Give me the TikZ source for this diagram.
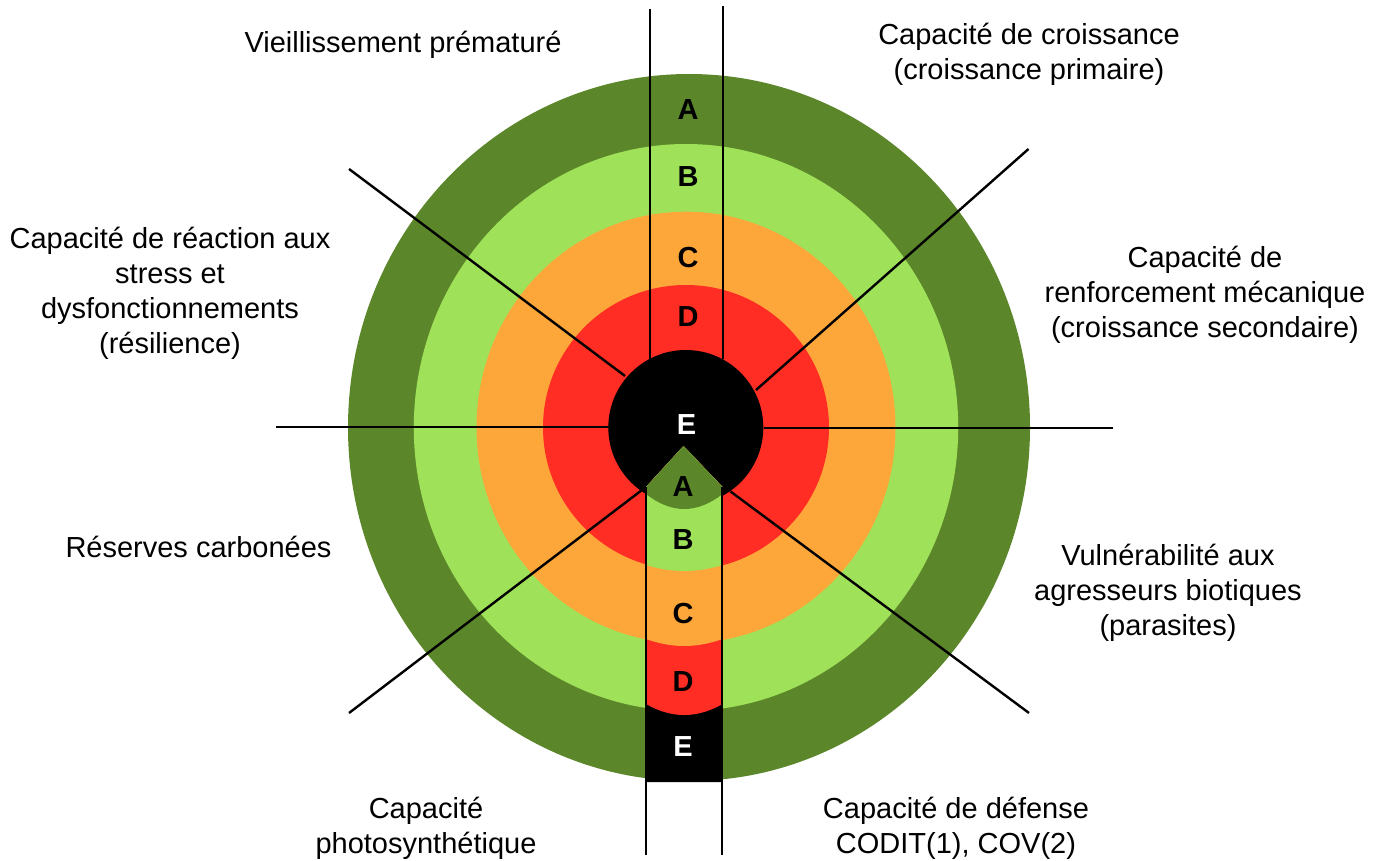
\documentclass[tikz,border=0pt]{standalone}
\usepackage{fontspec}
\setmainfont{Liberation Sans}
\definecolor{dkgreen}{RGB}{91,135,42}
\definecolor{ltgreen}{RGB}{160,225,90}
\definecolor{orng}{RGB}{253,167,58}
\definecolor{rd}{RGB}{255,45,35}
\tikzset{
  lbl/.style={font=\fontsize{29}{35}\selectfont, align=center, inner sep=0pt, anchor=base},
  letter/.style={font=\fontsize{29}{29}\selectfont\bfseries, inner sep=0pt},
  rule/.style={line width=2.4pt, black},
}
\begin{document}
\begin{tikzpicture}[x=1pt,y=-1pt]
\useasboundingbox (0,0) rectangle (1386,861);
\fill[white] (0,0) rectangle (1386,861);
% rings
\coordinate (c) at (686,427.5);
\fill[dkgreen] (689,427.5) ellipse [x radius=341, y radius=353.5];
\fill[ltgreen] (c) ellipse [x radius=272.2, y radius=283.5];
\fill[orng] (c) ellipse [x radius=209.5, y radius=215.8];
\fill[rd] (c) ellipse [x radius=143, y radius=142.5];
\fill[black] (685.8,427.5) circle [radius=77.5];
% lower strip
\fill[black] (646,487) -- (683.5,446) -- (722.5,487) -- (722.5,782) -- (646,782) -- cycle;
\fill[rd] (646,487) -- (683.5,446) -- (722.5,487) -- (722.5,704) .. controls (697,718.7) and (671.5,718.7) .. (646,704) -- cycle;
\fill[orng] (646,487) -- (683.5,446) -- (722.5,487) -- (722.5,639) .. controls (697,648.3) and (671.5,648.3) .. (646,639) -- cycle;
\fill[ltgreen] (646,487) -- (683.5,446) -- (722.5,487) -- (722.5,565) .. controls (697,573) and (671.5,573) .. (646,565) -- cycle;
\fill[dkgreen] (646,487) -- (683.5,446) -- (722.5,487) -- (722.5,494) .. controls (697,514) and (671.5,514) .. (646,494) -- cycle;
% line end points
\coordinate (tl1) at (650,9);     \coordinate (tl2) at (650,358.8);
\coordinate (tr1) at (722.7,6);   \coordinate (tr2) at (722.7,359.3);
\coordinate (bl1) at (646,487);   \coordinate (bl2) at (646,855);
\coordinate (br1) at (722,487);   \coordinate (br2) at (722,855);
\coordinate (w1) at (276,427);    \coordinate (w2) at (608.5,427);
\coordinate (e1) at (763.5,428);  \coordinate (e2) at (1113,428);
\coordinate (nw1) at (349,169);   \coordinate (nw2) at (625,376);
\coordinate (ne1) at (1028.5,149);\coordinate (ne2) at (756,390);
\coordinate (sw1) at (349,713);   \coordinate (sw2) at (642,490);
\coordinate (se1) at (1029,713);  \coordinate (se2) at (730.5,491.5);
\draw[rule] (tl1) -- (tl2);
\draw[rule] (tr1) -- (tr2);
\draw[rule] (bl1) -- (bl2);
\draw[rule] (br1) -- (br2);
\draw[rule] (w1) -- (w2);
\draw[rule] (e1) -- (e2);
\draw[rule] (nw1) -- (nw2);
\draw[rule] (ne1) -- (ne2);
\draw[rule] (sw1) -- (sw2);
\draw[rule] (se1) -- (se2);
% letters
\node[letter] (ua) at (688,110) {A};
\node[letter] (ub) at (688,177) {B};
\node[letter] (uc) at (688,258) {C};
\node[letter] (ud) at (688,317) {D};
\node[letter, white] (ce) at (686.5,425) {E};
\node[letter] (la) at (683,487) {A};
\node[letter] (lb) at (683,540) {B};
\node[letter] (lc) at (683,614) {C};
\node[letter] (ld) at (683,682) {D};
\node[letter, white] (le) at (683,747) {E};
% labels (anchored at the baseline of the last line)
\node[lbl] (t1) at (403,53) {Vieillissement prématuré};
\node[lbl] (t2) at (1029,80) {Capacité de croissance\\(croissance primaire)};
\node[lbl] (t3) at (170,353) {Capacité de réaction aux\\stress et\\dysfonctionnements\\(résilience)};
\node[lbl] (t4) at (1205,337) {Capacité de\\renforcement mécanique\\(croissance secondaire)};
\node[lbl] (t5) at (198.5,557) {Réserves carbonées};
\node[lbl] (t6) at (1168,635) {Vulnérabilité aux\\agresseurs biotiques\\(parasites)};
\node[lbl] (t7) at (426,853) {Capacité\\photosynthétique};
\node[lbl] (t8) at (956,853) {Capacité de défense\\CODIT(1), COV(2)};
\end{tikzpicture}
\end{document}
